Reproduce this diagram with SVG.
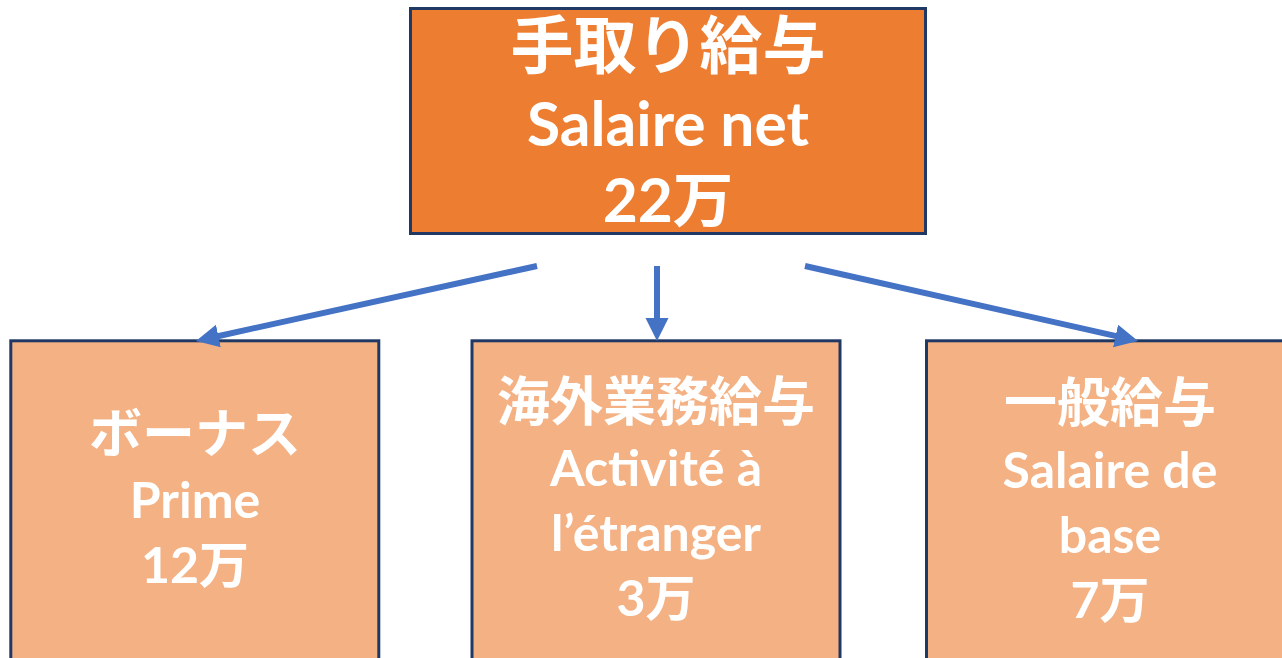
<svg xmlns="http://www.w3.org/2000/svg" width="1282" height="658" viewBox="0 0 1282 658">
  <style>
    .box-top { fill: #ED7D31; stroke: #203864; stroke-width: 3; }
    .box { fill: #F4B183; stroke: #203864; stroke-width: 3; }
    .t { fill: #FFFFFF; font-family: "Lato", "Noto Sans CJK JP", sans-serif; font-weight: bold; text-anchor: middle; }
    .big { font-size: 63px; }
    .bigl { font-size: 60.5px; }
    .mid { font-size: 53px; }
    .midl { font-size: 50px; }
    .conn { stroke: #4472C4; stroke-width: 6; fill: none; marker-end: url(#arrow); }
  </style>
  <defs>
    <marker id="arrow" markerUnits="userSpaceOnUse" markerWidth="24" markerHeight="24" viewBox="0 0 24 24" refX="3" refY="11.5" orient="auto">
      <path d="M0,0 L23,11.5 L0,23 z" fill="#4472C4"/>
    </marker>
  </defs>
  <rect width="1282" height="658" fill="#FFFFFF"/>

  <g id="node-net">
    <rect class="box-top" x="410.5" y="8.5" width="515" height="225"/>
    <text class="t big" x="668" y="68">手取り給与</text>
    <text class="t bigl" x="668" y="146">Salaire net</text>
    <text class="t bigl" x="668" y="222">22万</text>
  </g>

  <g id="node-prime">
    <rect class="box" x="10.8" y="340.8" width="368" height="330"/>
    <text class="t mid" x="195" y="453">ボーナス</text>
    <text class="t midl" x="195" y="518">Prime</text>
    <text class="t midl" x="195" y="583">12万</text>
  </g>

  <g id="node-etranger">
    <rect class="box" x="472" y="340.8" width="368" height="330"/>
    <text class="t mid" x="656" y="421">海外業務給与</text>
    <text class="t midl" x="656" y="486">Activité à</text>
    <text class="t midl" x="656" y="551">l’étranger</text>
    <text class="t midl" x="656" y="616">3万</text>
  </g>

  <g id="node-base">
    <rect class="box" x="926.5" y="340.8" width="368" height="330"/>
    <text class="t mid" x="1110" y="422">一般給与</text>
    <text class="t midl" x="1110" y="488">Salaire de</text>
    <text class="t midl" x="1110" y="553">base</text>
    <text class="t midl" x="1110" y="618">7万</text>
  </g>

  <g id="connectors">
    <line class="conn" x1="537" y1="266" x2="215.5" y2="336.7"/>
    <line class="conn" x1="657" y1="266" x2="657" y2="321"/>
    <line class="conn" x1="805" y1="266" x2="1118.5" y2="336.6"/>
  </g>
</svg>
